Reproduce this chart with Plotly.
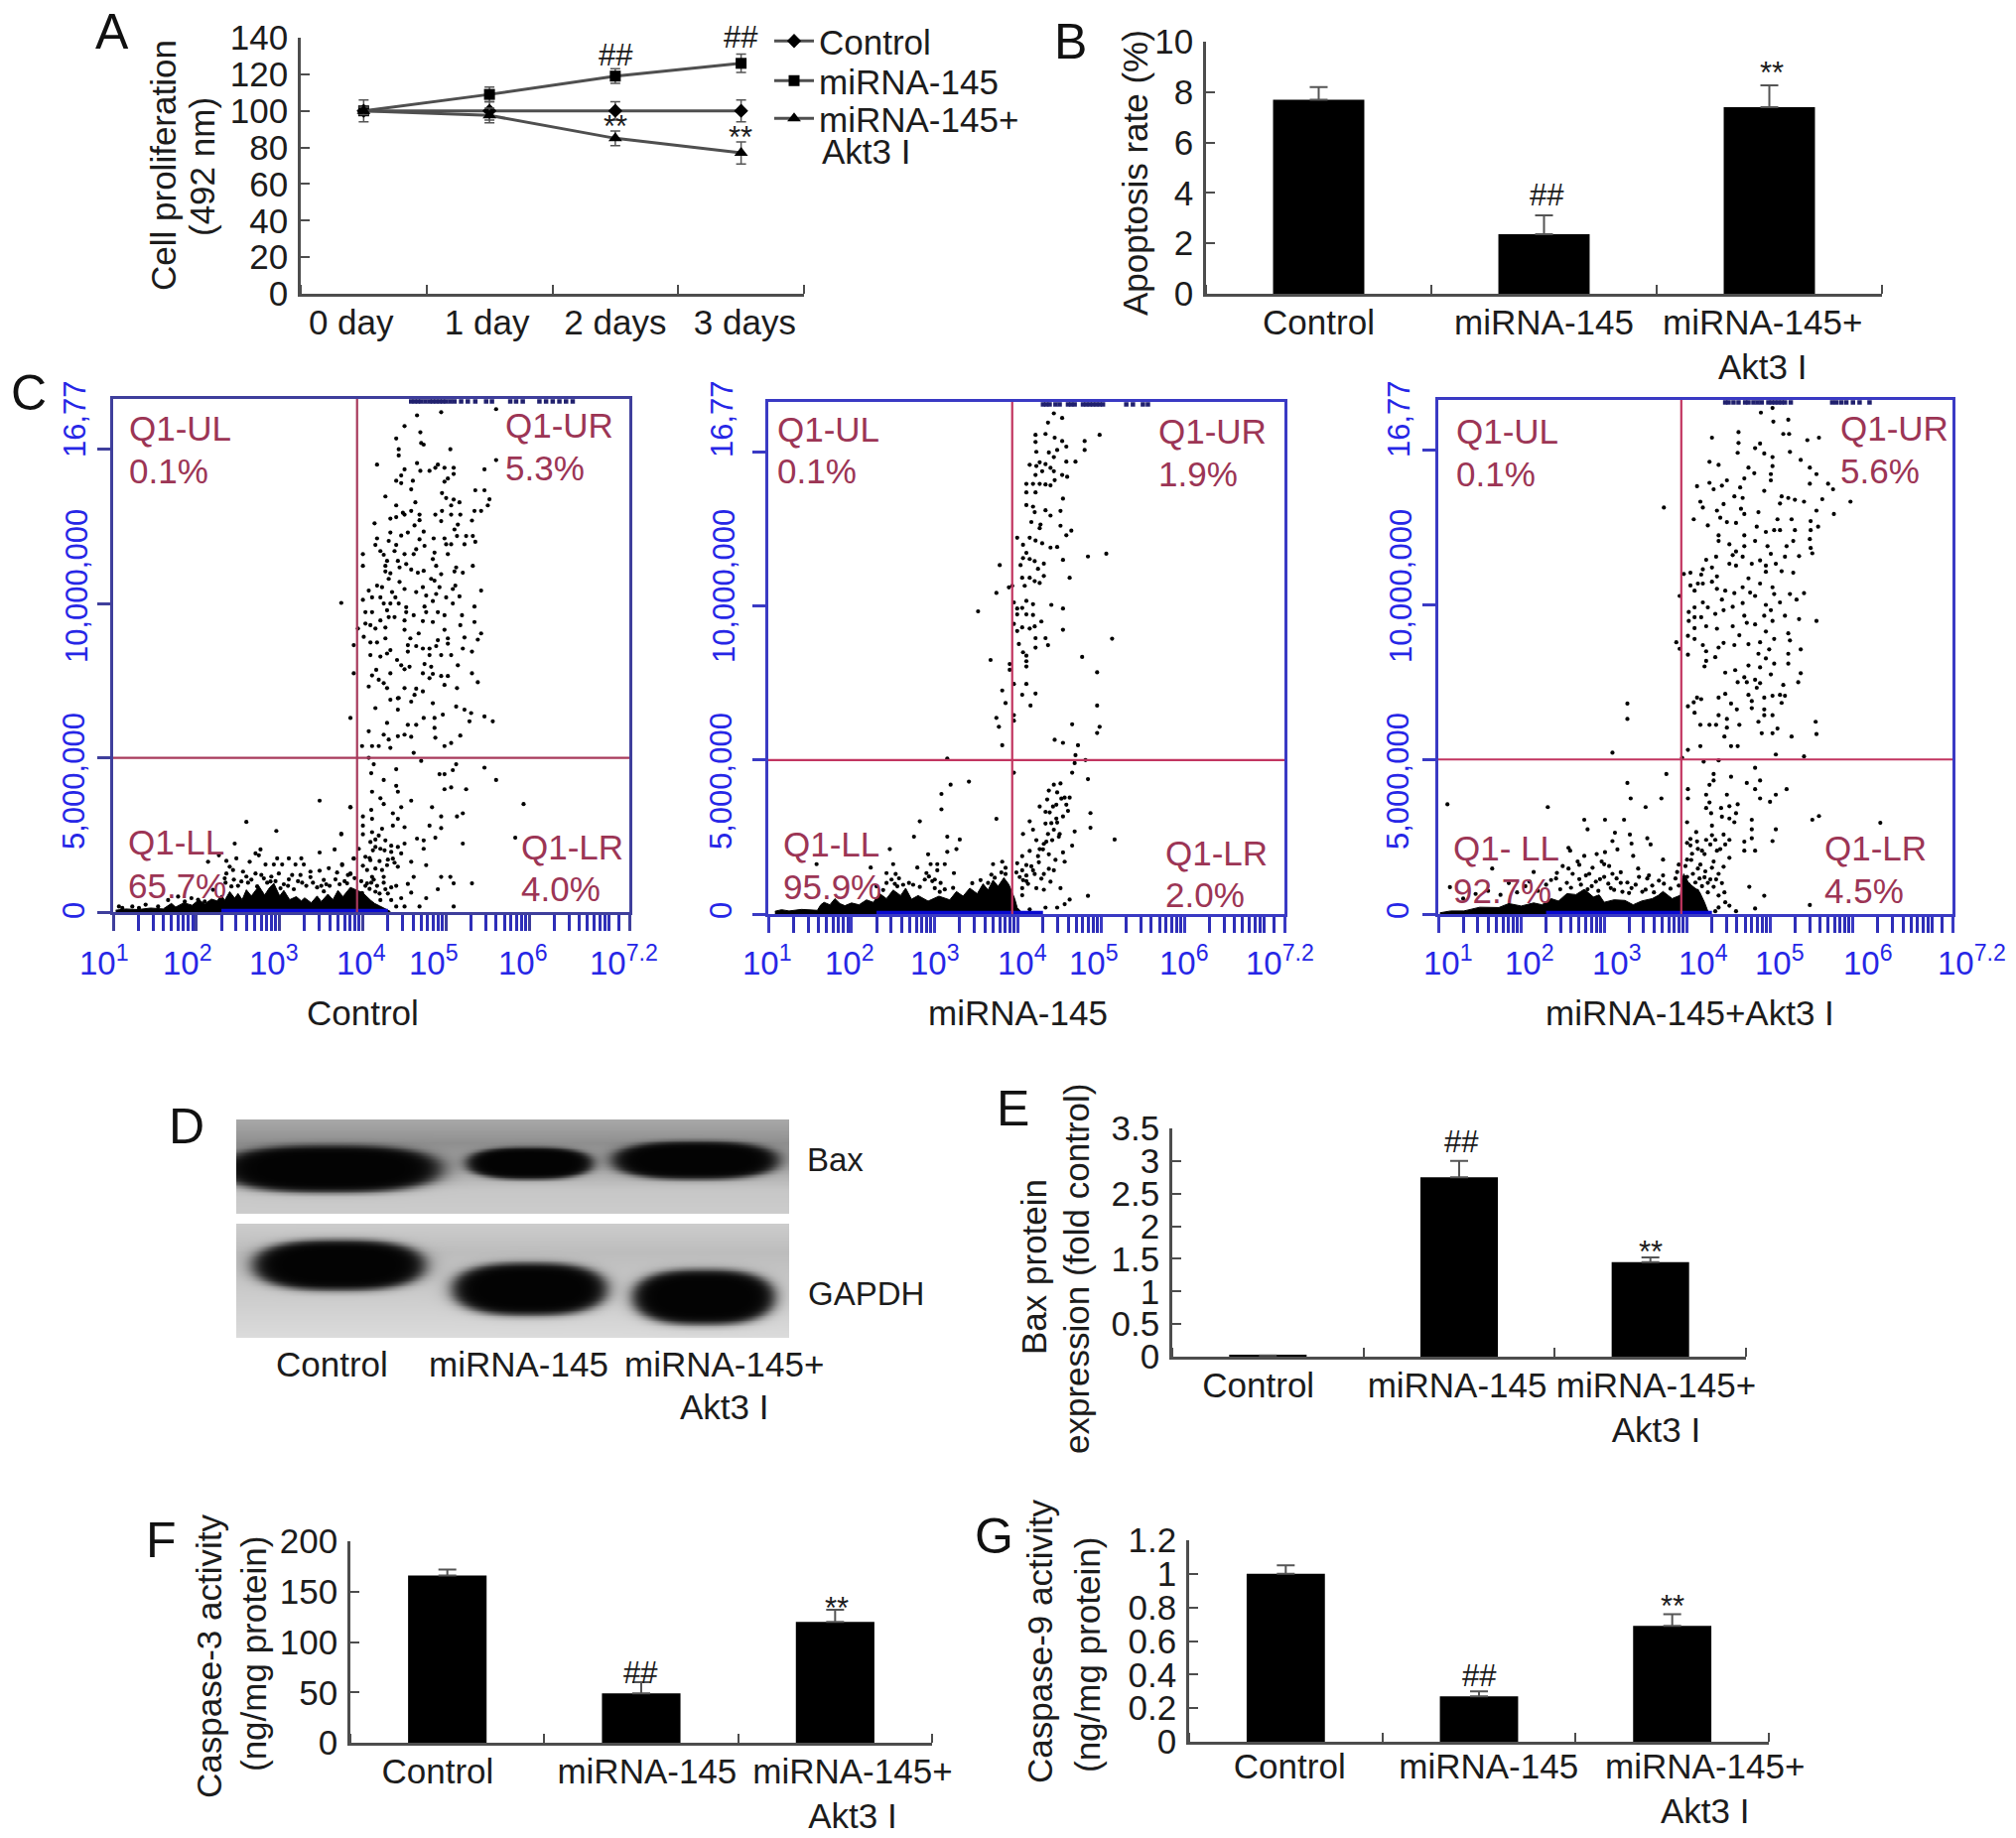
import numpy as np
import plotly.graph_objects as go

W, H = 2031, 1852

# ---------------- DATA ----------------
days = [0, 1, 2, 3]
day_labels = ["0 day", "1 day", "2 days", "3 days"]
prolif_control = [100, 100, 100, 100]
prolif_control_err = [6, 5, 5, 6]
prolif_mir = [100, 109, 119, 126]
prolif_mir_err = [2, 4, 4, 5]
prolif_akt = [100, 97.5, 85, 77]
prolif_akt_err = [2, 4, 4, 6]
prolif_ticks = [0, 20, 40, 60, 80, 100, 120, 140]

groups = ["Control", "miRNA-145", "miRNA-145+<br>Akt3 I"]
apoptosis = [7.7, 2.36, 7.4]
apoptosis_err = [0.5, 0.75, 0.87]
bax = [0.02, 2.75, 1.45]
bax_err = [0.0, 0.25, 0.07]
casp3 = [166, 49, 120]
casp3_err = [6, 11, 12]
casp9 = [1.0, 0.27, 0.69]
casp9_err = [0.05, 0.03, 0.07]

# flow cytometry: (log10 FITC, PI in millions), read dot by dot from the picture
control_dots = [(4.65,16.1),(4.94,16.2),(5.60,16.3),(4.50,15.75),(4.69,15.55),(4.40,15.35),(4.70,15.2),(4.73,15.15),(4.43,15.0),(4.43,14.8),(5.05,15.0),(5.60,14.65),(4.17,14.5),(4.65,14.55),(4.90,14.5),(4.87,14.4),(4.98,14.4),(5.09,14.4),(4.50,14.35),(5.46,14.35),(4.69,14.3),(4.80,14.3),(5.09,14.2),(5.02,14.05),(4.98,13.95),(4.46,14.15),(4.40,13.98),(4.46,13.9),(4.60,13.98),(4.58,13.7),(5.35,13.67),(5.46,13.67),(4.27,13.47),(4.95,13.58),(5.0,13.42),(5.09,13.37),(5.16,13.28),(5.52,13.38),(5.50,13.18),(4.63,13.28),(5.06,13.18),(4.40,13.18),(4.48,12.94),(4.58,13.0),(4.33,12.75),(4.40,12.8),(4.50,12.88),(4.68,12.88),(4.87,12.88),(4.95,13),(5.06,12.88),(5.17,12.88),(5.34,13),(5.42,13),(4.14,12.6),(4.68,12.7),(4.62,12.53),(4.94,12.67),(5.14,12.56),(5.31,12.69),(5.1,12.4),(4.54,12.3),(4.73,12.33),(4.46,12.2),(4.33,12.3),(4.17,12.11),(4.31,12.03),(4.68,12.08),(4.85,12.11),(4.98,12.11),(5.13,12.19),(5.24,12.19),(5.32,12.19),(5.35,12.0),(5.22,11.92),(5.06,11.92),(5.0,11.92),(4.15,11.9),(4.40,11.9),(4.74,11.87),(4.64,11.76),(4.21,11.7),(4.38,11.7),(4.0,11.6),(4.25,11.58),(4.50,11.6),(4.61,11.6),(4.86,11.65),(5.02,11.6),(4.29,11.38),(4.42,11.38),(4.84,11.44),(4.0,11.22),(4.27,11.22),(4.44,11.17),(4.52,11.28),(4.88,11.22),(5.32,11.22),(5.12,11.17),(4.27,11.04),(4.33,10.98),(4.58,11.1),(4.66,11.0),(4.73,11.06),(4.94,10.95),(5.1,11.04),(5.2,11.0),(4.31,10.8),(4.44,10.7),(4.82,10.8),(4.86,10.74),(4.17,10.58),(4.23,10.53),(4.5,10.47),(4.72,10.53),(4.92,10.53),(5.11,10.58),(5.08,10.47),(5.42,10.42),(4.07,10.42),(4.35,10.37),(4.39,10.2),(4.21,10.2),(4.64,10.37),(4.88,10.31),(4.76,10.26),(5.16,10.23),(3.74,10.02),(4.0,10.12),(4.11,10.2),(4.25,10.0),(4.33,10.0),(4.43,10),(4.52,9.88),(4.74,9.9),(5.08,10),(4.84,10.08),(5.0,10.2),(5.34,9.9),(4.03,9.72),(4.11,9.72),(4.29,9.78),(4.52,9.72),(4.76,9.72),(4.9,9.72),(5.19,9.62),(4.98,9.62),(4.61,9.62),(4.21,9.45),(4.31,9.56),(4.38,9.56),(4.5,9.45),(4.72,9.43),(4.84,9.4),(5.34,9.4),(5.17,9.3),(4.03,9.35),(4.09,9.3),(4.27,9.22),(4.15,9.19),(4.5,9.15),(4.98,9.15),(5.42,9.03),(3.94,9.19),(4.67,9.03),(4.01,8.92),(4.27,8.87),(4.57,8.87),(4.54,8.65),(5.02,8.87),(5.22,8.9),(5.38,8.83),(4.9,8.81),(4.09,8.74),(4.17,8.74),(3.89,8.65),(4.64,8.62),(4.72,8.54),(4.8,8.54),(4.88,8.62),(5.02,8.7),(5.2,8.54),(4.33,8.49),(4.29,8.38),(4.09,8.33),(4.21,8.28),(4.54,8.44),(5.06,8.33),(4.94,8.33),(4.8,8.33),(5.31,8.44),(4.41,8.17),(4.46,8.0),(4.56,7.95),(4.74,8.04),(4.82,7.95),(5.14,8.0),(4.16,7.85),(4.5,7.87),(3.89,7.74),(4.33,7.74),(4.72,7.74),(4.84,7.72),(5.31,7.74),(4.11,7.67),(4.94,7.65),(5.02,7.65),(4.8,7.58),(4.19,7.53),(4.25,7.42),(4.07,7.31),(4.29,7.26),(5.38,7.45),(4.98,7.36),(5.13,7.26),(4.5,7.26),(4.64,7.24),(4.72,7.15),(4.62,7.04),(4.43,6.94),
(4.15,6.61),(4.33,6.88),(4.42,6.93),(4.42,6.56),(4.58,6.82),(4.84,6.77),(5.12,6.66),(5.22,6.56),(5.3,6.45),(5.46,6.34),(5.56,6.18),(3.85,6.29),(4.29,6.13),(4.54,6.07),(4.64,6.07),(4.73,6.29),(4.86,6.29),(4.96,6.4),(5.28,6.18),(4.07,5.86),(4.25,5.75),(4.42,5.7),(4.5,5.75),(4.58,5.68),(4.86,5.97),(4.87,5.65),(5.17,5.72),(4.31,5.59),(5.06,5.48),(4.98,5.38),(4.33,5.32),(3.99,5.38),(4.11,5.38),(4.19,5.38),(4.61,5.16),(4.07,5.0),(4.7,4.9),(4.13,4.79),(5.12,4.79),(4.4,4.63),(5.46,4.68),(4.1,4.5),(5.08,4.6),(4.92,4.47),(4.98,4.47),(4.25,4.28),(5.6,4.28),(4.4,4.09),(5.06,4.04),(4.98,3.98),(5.24,3.98),(4.11,3.9),(4.42,3.9),(4.21,3.69),(4.58,3.61),(5.93,3.5),(4.25,3.5),(3.85,3.4),(4.46,3.4),(4.83,3.4),(4.1,3.31),(5.2,3.2),(5.13,3.1),(4.36,3.2),(4.42,3.02),(4.94,3.1),(4.0,3.1),(4.11,3.02),(4,2.8),(4.8,2.8),(4.36,2.8),(4.23,2.7),(4.5,2.75),(4.94,2.72),(4.11,2.59),(4.19,2.48),(3.74,2.52),(4.0,2.52),(4.65,2.38),(4.87,2.41),(4.73,2.32),(4.27,2.32),(4.09,2.27),(4.15,2.11),(4.5,2.22),(5.2,2.22),(5.83,2.41),(4.42,2.11),(4.73,2.05),(4.21,2.05),(4.34,1.95),(3.95,2.05),(4.03,1.79),(4.09,1.68),(4.36,1.73),(4.58,1.63),(4.76,1.52),(4.29,1.52),(4.42,1.47),(4.15,1.41),(4.05,1.36),(4.23,1.36),(3.89,1.73),(3.75,1.52),(3.85,1.23),(4.11,1.14),(4.25,1.14),(4.61,1.14),(4.94,1.14),(5.05,1.14),(4.05,.93),(4.54,.91),(5.09,.93),(5.31,.93),(4.4,.85),(4.27,.74),(4.9,.74),(4.15,.66),(4.58,.63),(3.99,.62),(4.76,.45),(4.46,.45),(4.34,.39),(4.21,.39),(4.5,.18),(4.4,.18),(4.68,.18),(5.09,.18),
(3.48,3.61),(3.85,3.4),(2.6,2.92),(2.96,2.63),(3.74,2.54),(2.46,2.22),(3.66,2.03),(3.48,1.93),(2.77,2.03),(2.71,1.9),(2.75,1.84),(2.27,1.84),(2.36,1.66),(2.48,1.74),(2.64,1.63),(2.14,1.63),(2.97,1.74),(3.11,1.74),(3.26,1.74),(3.89,1.74),(2.83,1.54),(2.93,1.54),(3.03,1.54),(3.19,1.54),(3.29,1.54),(3.75,1.55),(2.4,1.47),(2.44,1.36),(3.59,1.42),(3.37,1.31),(3.48,1.34),(3.69,1.28),(2.56,1.31),(2.36,1.25),(2.71,1.25),(2.99,1.25),(3.25,1.2),(3.85,1.25),(2.6,1.15),(2.34,1.09),(2.81,1.09),(3.11,1.06),(3.37,1.13),(3.53,1.04),(3.67,1.06),(2.89,.99),(3.27,.95),(3.81,.93),(2.54,.99),(3.45,.8),(3.17,.74),(3.53,.67),(3.01,.77),(2.73,.83),(2.42,.83),(1.07,.18),(1.11,.13),(1.23,.18),(1.31,.13),(1.39,.24),(1.54,.18),(1.66,.39),(1.78,.5),(1.86,.34),(1.94,.45),(2.02,.4),(2.1,.34),(2.2,.72),
(2.35,.95),(2.45,1.05),(2.5,.85),(2.62,.95),(2.66,1.05),(2.78,1.2),(2.85,.95),(2.9,1.15),(2.95,1.0),(3.05,.9),(3.1,.85),(3.15,1.2),(3.22,1.0),(3.32,.85),(3.4,.95),(3.5,.85),(3.56,.9),(3.6,.85),(3.72,.9),(3.78,1.0),(3.82,1.2),(3.9,1.1),(3.98,1.0),(4.03,.85),(4.08,.75),(4.1,.95),(4.13,1.05),(4.17,.85),(4.2,.6),(4.25,.95),(4.3,.6),(4.34,.8),(4.0,1.5),(4.08,1.75),(4.12,2.0),(4.2,1.65),(4.26,2.0),(4.3,1.7),(4.34,2.15),(4.38,1.6),(4.46,1.9),(4.15,2.35)]
control_band_x = [1.03,1.15,1.3,1.45,1.6,1.7,1.75,1.85,1.95,2.03,2.1,2.18,2.25,2.3,2.34,2.4,2.46,2.5,2.55,2.6,2.66,2.75,2.82,2.88,2.93,3.0,3.05,3.12,3.2,3.26,3.3,3.38,3.45,3.5,3.58,3.64,3.7,3.76,3.85,3.92,4.0,4.09,4.14,4.2,4.29,4.33]
control_band_y = [.06,.1,.08,.13,.1,.28,.16,.3,.22,.4,.26,.42,.36,.55,.38,.66,.45,.6,.4,.72,.52,.84,.55,.8,.93,.52,.7,.4,.5,.36,.46,.3,.52,.34,.58,.4,.7,.5,.8,.72,.62,.39,.28,.2,.07,.02]
control_top = [4.58,4.62,4.66,4.7,4.75,4.8,4.84,4.88,4.92,4.96,5.0,5.05,5.1,5.18,5.26,5.35,5.48,5.55,5.77,5.84,5.92,6.12,6.2,6.28,6.36,6.44,6.52]

mir_dots = [(4.43,16.26),(4.53,16.11),(4.36,15.96),(4.21,15.56),(4.33,15.59),(4.44,15.47),(4.21,15.33),(4.53,15.36),(4.8,15.36),(4.98,15.56),(4.58,15.18),(4.47,15.07),(4.8,15.07),(4.22,15.01),(4.37,14.99),(4.43,14.84),(4.26,14.67),(4.14,14.59),(4.22,14.55),(4.33,14.61),(4.39,14.49),(4.58,14.69),(4.69,14.69),(4.29,14.38),(4.21,14.26),(4.43,14.38),(4.53,14.26),(4.59,14.2),(4.1,13.97),(4.18,13.97),(4.26,13.97),(4.33,13.95),(4.39,13.92),(4.44,14.09),(4.1,13.69),(4.21,13.69),(4.54,13.49),(4.1,13.28),(4.18,13.23),(4.2,13.05),(4.33,13.11),(4.39,12.94),(4.51,13.09),(4.16,12.73),(4.27,12.65),(4.26,12.53),(4.51,12.61),(4.58,12.3),(4.64,12.45),(3.99,12.22),(4.14,12.22),(4.21,12.13),(4.29,12.04),(4.06,11.99),(4.39,11.9),(4.47,11.92),(4.1,11.73),(4.06,11.56),(4.14,11.53),(4.2,11.46),(4.31,11.38),(4.03,11.33),(4.54,11.5),(4.84,11.61),(5.06,11.7),(3.78,11.33),(4.24,11.21),(4.14,10.92),(4.05,10.92),(4.31,10.98),(4.62,10.92),(4.2,10.81),(4.08,10.66),(3.93,10.66),(3.89,10.61),(3.74,10.43),(4.26,10.75),(3.95,10.12),(4.1,10.17),(4.18,10.06),(4.05,9.94),(3.99,9.92),(4.4,10.04),(4.54,9.92),(3.52,9.83),(3.99,9.73),(4.1,9.73),(4.18,9.71),(3.95,9.42),(4.28,9.5),(4.05,9.31),(4.14,9.27),(4.2,9.34),(4.54,9.23),(3.99,9.19),(4.21,8.96),(4.33,8.96),(5.13,8.94),(4.01,8.77),(4.21,8.65),(4.36,8.73),(4.06,8.5),(4.1,8.39),(4.77,8.35),(3.67,8.25),(4.1,8.21),(3.9,8.12),(4.1,8.04),(3.9,7.93),(4.95,7.85),(3.95,7.47),(4.1,7.47),(3.81,7.26),(4.21,7.16),(4.05,7.12),(3.85,6.85),(4.15,6.77),(4.95,6.77),(3.95,6.46),(3.74,6.37),(3.95,6.28),(4.65,6.16),(3.77,6.08),(4.98,6.08),(4.95,5.88),(4.44,5.66),(4.54,5.56),(3.81,5.48),(4.72,5.48),(4.69,5.16),(3.15,5.05),(4.81,5.0),(4.68,4.9),(3.95,4.59),(4.65,4.59),(4.84,4.38),(3.41,4.3),(3.19,4.2),(4.51,4.24),(4.43,4.2),(4.37,4.01),(4.47,3.95),(3.08,3.9),(4.56,3.78),(4.62,3.78),(4.35,3.72),(4.26,3.49),(4.42,3.49),(3.08,3.4),(4.33,3.32),(4.87,3.28),(4.54,3.17),(3.74,3.09),(2.82,3.01),(4.14,3.01),(4.33,2.94),(4.47,2.97),(4.87,2.8),(4.18,2.74),(4.43,2.74),(4.06,2.6),(4.68,2.68),(2.75,2.51),(3.15,2.51),(4.49,2.51),(3.3,2.42),(5.16,2.42),(4.41,2.4),(4.31,2.28),(4.65,2.22),(2.46,2.11),(3.26,2.11),(4.26,2.11),(4.14,2.05),(4.37,1.94),(4.54,2.0),(3.15,2.02),(2.92,1.94),(4.05,1.88),(4.24,1.88),(4.45,1.76),(4.56,1.7),(1.58,1.62),(2.5,1.62),(2.95,1.62),(3.03,1.62),(3.12,1.62),(3.7,1.62),(3.81,1.7),(3.99,1.65),(4.1,1.59),(2.23,1.51),(2.79,1.51),(4.37,1.47),(3.03,1.42),(4.05,1.42),(4.18,1.42),(2.42,1.33),(2.53,1.3),(2.9,1.33),(3.23,1.33),(3.85,1.3),(4.31,1.3),(4.43,1.42),(2.57,1.16),(2.42,1.01),(2.97,1.07),(3.07,1.01),(3.64,1.01),(4.1,1.07),(4.39,1.05),(2.55,.9),(2.69,1.01),(3.0,.84),(4.05,.84),(4.22,.84),(4.51,.84),(4.31,.79),(4.05,.61),(4.84,.59),(4.62,.47),(4.56,.32),(4.14,.15),(4.33,.21),(4.47,.21),
(2.3,.9),(2.38,.78),(2.48,1.12),(2.52,.98),(2.62,.95),(2.74,.95),(2.82,.88),(2.88,1.12),(2.93,1.22),(3.0,1.12),(3.06,.72),(3.12,.8),(3.22,.85),(3.45,1.0),(3.55,1.1),(3.68,1.28),(3.72,1.18),(3.8,1.35),(3.85,1.5),(3.98,1.35),(4.02,1.2),(4.06,1.1),(4.1,1.25),(4.12,.98),(4.16,1.55),(4.2,1.3),(4.25,1.68),(4.28,1.15),(4.3,2.1),(4.34,2.35),(4.22,2.4),(4.36,2.6),(4.4,2.95),(4.38,3.3),(4.46,3.1),(4.5,2.6),(4.46,3.55),(4.52,3.75),(4.58,3.55),(4.6,3.35)]
mir_band_x = [1.08,1.16,1.25,1.4,1.59,1.63,1.67,1.74,1.8,1.86,1.92,2.0,2.09,2.18,2.26,2.34,2.42,2.5,2.59,2.65,2.72,2.8,2.92,3.05,3.18,3.26,3.34,3.42,3.51,3.58,3.64,3.7,3.76,3.83,3.89,3.96,3.99,4.05]
mir_band_y = [.09,.14,.1,.15,.12,.3,.38,.3,.5,.34,.27,.36,.3,.46,.38,.66,.5,.78,.6,.84,.48,.6,.42,.58,.46,.73,.58,.84,.66,.98,.78,1.1,.9,1.18,.96,.5,.21,.04]
mir_top = [4.3,4.34,4.38,4.45,4.5,4.6,4.64,4.68,4.78,4.82,4.86,4.9,4.94,4.98,5.02,5.3,5.38,5.5,5.56]

akt_dots = [(5.03,16.37),(4.89,16.22),(5.04,15.93),(5.22,15.99),(4.62,15.59),(4.3,15.41),(5.16,15.53),(5.23,15.53),(5.45,15.33),(5.59,15.41),(4.62,15.24),(4.88,15.22),(4.82,15.07),(4.93,14.9),(4.61,14.92),(5.24,14.95),(5.03,14.78),(5.37,14.69),(4.27,14.63),(4.38,14.53),(4.74,14.44),(5.03,14.49),(5.48,14.44),(4.81,14.26),(5.01,14.23),(5.56,14.23),(4.69,14.09),(4.48,14.03),(4.27,13.95),(5.01,14.03),(5.48,13.92),(5.7,13.92),(4.12,13.84),(4.64,13.8),(4.32,13.74),(4.42,13.86),(4.93,13.69),(5.76,13.74),(4.57,13.51),(4.67,13.46),(5.14,13.51),(5.22,13.46),(5.3,13.4),(5.63,13.42),(5.97,13.34),(4.16,13.34),(5.41,13.34),(4.44,13.26),(5.12,13.28),(3.72,13.15),(4.19,13.15),(4.36,13.05),(4.65,13.11),(5.56,13.05),(4.69,12.94),(5.77,12.94),(4.4,12.82),(4.86,13.0),(5.09,12.77),(5.26,12.77),(4.08,12.77),(4.59,12.65),(4.48,12.68),(5.49,12.71),(4.25,12.57),(4.84,12.53),(5.05,12.42),(5.12,12.42),(5.58,12.53),(4.38,12.25),(4.95,12.36),(5.3,12.42),(5.49,12.42),(4.69,12.25),(4.38,12.07),(4.82,12.07),(5.28,12.07),(5.48,12.13),(4.51,11.96),(4.69,11.9),(5.2,11.9),(4.97,11.9),(4.59,11.73),(5.49,11.84),(5.51,11.67),(4.35,11.56),(4.55,11.61),(5.01,11.65),(5.35,11.58),(4.23,11.46),(4.67,11.56),(4.88,11.44),(5.18,11.56),(4.51,11.33),(4.3,11.21),(4.78,11.33),(4.95,11.27),(5.07,11.33),(4.59,11.27),(5.28,11.04),(4.19,11.15),(3.96,11.0),(4.04,11.04),(4.17,10.98),(4.36,10.92),(4.74,10.86),(4.95,11.07),(5.14,11.09),(4.13,10.69),(4.19,10.69),(4.04,10.63),(4.3,10.75),(4.67,10.57),(4.88,10.69),(5.03,10.57),(4.36,10.52),(4.46,10.46),(4.09,10.46),(4.76,10.4),(5.24,10.35),(5.41,10.38),(3.91,10.29),(4.57,10.38),(5.05,10.35),(5.32,10.17),(4.42,10.17),(4.82,10.29),(4.19,10.08),(4.67,10.06),(4.95,10.0),(5.12,10.08),(4.09,9.92),(4.55,9.94),(4.44,9.83),(4.02,9.77),(5.01,9.83),(5.18,9.65),(4.09,9.6),(4.17,9.6),(4.25,9.92),(4.34,9.71),(4.69,9.65),(4.93,9.65),(5.35,9.54),(5.56,9.48),(4.02,9.48),(5.03,9.48),(4.72,9.42),(4.82,9.37),(4.23,9.31),(4.36,9.23),(4.55,9.31),(4.09,9.25),(5.22,9.08),(4.95,9.14),(4.63,9.02),(4.01,9.0),(4.09,8.9),(5.05,8.9),(5.24,8.85),(4.88,8.79),(3.87,8.79),(4.19,8.7),(4.44,8.77),(4.57,8.7),(4.74,8.73),(3.91,8.58),(4.38,8.62),(4.23,8.5),(4.99,8.56),(5.37,8.56),(4.86,8.42),(5.22,8.42),(4.01,8.39),(4.34,8.31),(4.95,8.27),(5.05,8.1),(4.23,8.19),(4.74,8.04),(5.22,8.1),(4.21,8.01),(4.58,7.89),(4.46,7.81),(4.88,7.98),(5.37,7.79),(5.01,7.75),(4.69,7.66),(4.82,7.58),(4.61,7.5),(5.34,7.5),(4.72,7.5),(4.88,7.47),(5.16,7.41),(4.84,7.32),(4.46,7.12),(4.74,7.09),(4.38,7.0),(4.93,7.0),(5.03,7.06),(5.12,7.09),(5.18,7.06),(4.12,7.0),(4.17,6.95),(3.28,6.81),(4.78,6.89),(4.08,6.85),(4.01,6.72),(4.53,6.81),(5.14,6.83),(4.6,6.62),(4.78,6.66),(4.93,6.62),(4.09,6.51),(4.93,6.43),(4.38,6.43),(5.03,6.43),(3.28,6.31),(4.48,6.31),(5.55,6.22),(4.86,6.22),(4.16,6.12),(4.27,6.12),(4.35,6.12),(4.63,6.12),(5.09,6.0),(4.48,6.03),(5.03,5.85),(4.9,5.85),(5.56,5.82),(4.45,5.74),(5.26,5.74),(4.53,5.43),(4.61,5.43),(4.16,5.43),(4.01,5.31),(3.1,5.22),(5.07,5.16),(5.41,5.1),(3.94,5.05),(4.2,4.93),(4.38,4.97),
(4.82,4.73),(3.75,4.53),(4.32,4.53),(4.53,4.44),(4.32,4.32),(4.88,4.32),(3.28,4.24),(4.72,4.24),(4.27,4.18),(4.82,4.04),(5.2,4.04),(4.01,4.04),(4.48,3.86),(5.07,3.86),(4.23,3.86),(4.01,3.74),(3.32,3.74),(3.69,3.74),(4.88,3.74),(5.0,3.63),(4.27,3.61),(4.61,3.55),(4.51,3.49),(1.11,3.55),(2.32,3.46),(3.5,3.46),(4.41,3.43),(4.23,3.43),(4.59,3.26),(4.29,3.26),(4.42,3.15),(4.51,3.09),(2.76,3.05),(3.01,3.05),(3.24,3.05),(4.78,3.05),(5.51,3.05),(5.59,3.17),(6.33,2.95),(4.57,2.97),(4.0,2.97),(4.3,2.86),(2.8,2.74),(5.07,2.74),(4.78,2.74),(3.13,2.63),(4.11,2.65),(4.44,2.57),(3.31,2.57),(3.52,2.45),(4.78,2.45),(4.04,2.43),(4.23,2.4),(4.34,2.4),(4.51,2.4),(5.03,2.36),(3.1,2.36),(3.33,2.28),(3.56,2.25),(4.69,2.34),(4.04,2.22),(4.13,2.11),(2.57,2.14),(3.16,2.09),(4.36,2.05),(4.82,2.05),(4.69,2.05),(2.59,2.05),(3.01,2.0),(4.21,1.94),(2.76,1.88),(2.91,1.94),(3.35,1.88),(3.71,1.76),(4.51,1.82),(4.0,1.76),(3.0,1.61),(4.32,1.7),(4.44,1.53),(2.57,1.47),(2.7,1.59),(1.65,1.47),(2.15,1.36),(3.41,1.47),(4.13,1.47),(3.88,1.36),(2.43,1.33),(2.82,1.3),(3.1,1.3),(3.54,1.25),(4.38,1.3),(4.21,1.19),(2.36,1.1),(2.55,1.01),(2.7,1.13),(2.95,1.13),(3.2,1.01),(3.71,1.25),(4.25,1.01),(2.85,.9),(3.33,.84),(4.75,.88),(3.08,.84),(3.5,.79),(4.93,.59),(5.48,.29),(4.82,.18),(4.46,.38),(4.51,.27),(4.38,.21),(4.34,.09),(4.59,.09),(1.14,.87),
(2.3,.95),(2.42,1.15),(2.47,.8),(2.5,1.55),(2.6,.85),(2.62,1.3),(2.68,1.7),(2.72,.95),(2.78,1.25),(2.8,.8),(2.86,1.5),(2.9,1.05),(2.93,.75),(2.97,1.7),(3.0,1.2),(3.05,.98),(3.06,1.55),(3.12,.78),(3.15,1.15),(3.2,1.35),(3.22,.72),(3.28,1.02),(3.3,.68),(3.38,.95),(3.42,1.2),(3.46,.72),(3.52,1.15),(3.58,.92),(3.6,.7),(3.66,1.08),(3.72,.98),(3.8,.82),(3.86,1.15),(3.9,.92),(3.9,1.6),(3.98,1.55),(4.0,1.2),(4.02,.95),(4.05,1.75),(4.07,1.3),(4.1,1.02),(4.12,.75),(4.15,1.15),(4.16,1.6),(4.18,.9),(4.22,1.38),(4.25,.7),(4.28,1.12),(4.3,1.5),(4.32,.88),(4.35,1.12),(4.38,.6),(4.42,1.0),(4.45,.7),(4.0,2.3),(4.06,1.95),(4.12,2.35),(4.18,2.05),(4.28,2.25),(4.3,2.55),(4.4,2.1),(4.46,2.25),(2.05,.9),(2.1,1.05),(2.2,.75),(1.6,.75),(1.75,.62),(1.85,1.0),(1.95,.7),(1.3,.5),(1.45,.65)]
akt_band_x = [1.02,1.15,1.31,1.5,1.73,1.85,2.0,2.15,2.25,2.36,2.45,2.55,2.66,2.76,2.87,2.94,3.0,3.12,3.25,3.35,3.45,3.58,3.65,3.71,3.82,3.92,3.94,3.96,4.02,4.09,4.15,4.21,4.25,4.29]
akt_band_y = [.04,.1,.1,.22,.21,.34,.26,.36,.3,.5,.42,.66,.63,.8,.55,.62,.38,.46,.44,.3,.42,.5,.6,.73,.5,.61,1.1,1.3,1.0,.84,.72,.38,.1,.04]
akt_top = [4.46,4.5,4.56,4.62,4.7,4.74,4.8,4.85,4.9,4.98,5.02,5.06,5.1,5.14,5.18,5.25,5.75,5.8,5.86,5.92,6.0,6.08,6.2]

flow_names = ["Control", "miRNA-145", "miRNA-145+Akt3 I"]
flow_quadrants = [["0.1%", "5.3%", "65.7%", "4.0%"], ["0.1%", "1.9%", "95.9%", "2.0%"], ["0.1%", "5.6%", "92.7%", "4.5%"]]
gate_log_x = 3.93
gate_y = 5
flow_tick_exp = [1, 2, 3, 4, 5, 6, 7.2]
flow_tick_text = ["10<sup>1</sup>", "10<sup>2</sup>", "10<sup>3</sup>", "10<sup>4</sup>", "10<sup>5</sup>", "10<sup>6</sup>", "10<sup>7.2</sup>"]

# western blot lanes: centre x, centre y, half width, half height (blot fraction units)
bax_bands = [(0.17, 0.52, 0.2, 0.25), (0.53, 0.46, 0.115, 0.17), (0.83, 0.43, 0.15, 0.2)]
gapdh_bands = [(0.185, 0.36, 0.155, 0.22), (0.53, 0.57, 0.14, 0.23), (0.845, 0.64, 0.128, 0.24)]

# ---------------- HELPERS ----------------
INK = "#1c1c1c"
AXC = "#4d4d4d"
ROSE = "#9c3555"
BLUE = "#2626e6"
FONT = "Liberation Sans"
fig = go.Figure()
annots = []
L = {}


def px_x(a, b):
    return [a / W, b / W]


def px_y(top, bottom):
    return [1 - bottom / H, 1 - top / H]


def note(text, x, y, size=35, color=INK, anchor="center", angle=0):
    annots.append(dict(text=text, xref="paper", yref="paper", x=x / W, y=1 - y / H, xanchor=anchor,
                       yanchor="middle", showarrow=False, textangle=angle, align="center",
                       font=dict(size=size, color=color, family=FONT)))


def stars(text, x, y):
    note(text, x, y + (6 if "*" in text else 0), size=31)


def set_axes(n, xa, ya):
    s = "" if n == 1 else str(n)
    xa = dict(xa, anchor="y" + s)
    ya = dict(ya, anchor="x" + s)
    L["xaxis" + s] = xa
    L["yaxis" + s] = ya
    return "x" + s, "y" + s


def plain_axes(n, xd, yd, xr, yr, minor_x, tick_pos, tick_text, ytick, ytext=None, standoff=-4):
    return set_axes(
        n,
        dict(domain=px_x(*xd), range=xr, tickmode="array", tickvals=tick_pos, ticktext=tick_text, ticks="",
             ticklen=0, showgrid=False, zeroline=False, showline=True, linecolor=AXC, linewidth=2.5,
             tickfont=dict(size=35, color=INK, family=FONT), ticklabelstandoff=standoff, tickangle=0,
             minor=dict(tickmode="array", tickvals=minor_x, ticks="inside", ticklen=9, tickcolor=AXC,
                        tickwidth=2, showgrid=False)),
        dict(domain=px_y(*yd), range=yr, tickmode="array", tickvals=ytick,
             ticktext=ytext if ytext else [str(v) for v in ytick], ticks="inside", ticklen=9, tickcolor=AXC,
             tickwidth=2, showgrid=False, zeroline=False, showline=True, linecolor=AXC, linewidth=2.5,
             tickfont=dict(size=35, color=INK, family=FONT), ticklabelstandoff=3),
    )


def bars(n, xd, yd, ymax, yticks, vals, errs, label_pos, ytext=None, standoff=-4):
    xr, yr = plain_axes(n, xd, yd, [-0.5, 2.5], [0, ymax], [-0.5, 0.5, 1.5, 2.5], label_pos, groups, yticks, ytext,
                        standoff)
    fig.add_trace(go.Bar(x=[0, 1, 2], y=vals, width=0.405, marker=dict(color="#000000", line=dict(width=0)),
                         error_y=dict(type="data", symmetric=False, array=errs, arrayminus=[0, 0, 0],
                                      color="#555555", thickness=2, width=9),
                         xaxis=xr, yaxis=yr, showlegend=False))


# ---------------- PANEL A ----------------
xa, ya = plain_axes(1, (303, 810), (38, 296), [-0.5, 3.5], [0, 140], [-0.5, 0.5, 1.5, 2.5, 3.5],
                    [-0.1, 0.98, 2.0, 3.03], day_labels, prolif_ticks)
series = [("Control", prolif_control, prolif_control_err, "diamond", "legend", 9),
          ("miRNA-145", prolif_mir, prolif_mir_err, "square", "legend2", 9),
          ("miRNA-145+", prolif_akt, prolif_akt_err, "triangle-up", "legend3", 10)]
for name, vals, err, sym, leg, sz in series:
    fig.add_trace(go.Scatter(x=days, y=vals, name=name, mode="lines+markers", legend=leg,
                             line=dict(color="#4f4f4f", width=3),
                             marker=dict(symbol=sym, size=sz + 2, color="#000000"),
                             error_y=dict(type="data", array=err, color="#555555", thickness=1.5, width=5),
                             xaxis=xa, yaxis=ya))
for leg, yy in (("legend", 40), ("legend2", 80), ("legend3", 118)):
    L[leg] = dict(x=775 / W, y=1 - (yy - 28) / H, xanchor="left", yanchor="top", bgcolor="rgba(0,0,0,0)",
                  borderwidth=0, itemwidth=40, font=dict(size=35, color=INK, family=FONT))
note("Akt3 I", 826, 153, anchor="left")
note("Cell proliferation", 165, 167, angle=-90)
note("(492 nm)", 204, 168, angle=-90)
for t, x, y in (("##", 620, 55), ("##", 746, 38), ("**", 620, 121), ("**", 746, 133)):
    stars(t, x, y)

# ---------------- PANEL B ----------------
bars(2, (1215, 1896), (42, 296), 10, [0, 2, 4, 6, 8, 10], apoptosis, apoptosis_err, [0, 1, 1.97])
note("Apoptosis rate (%)", 1143, 174, angle=-90)
stars("##", 1558, 197)
stars("**", 1785, 67)

# ---------------- PANEL C ----------------
flow = [
    dict(n=3, x=(114, 634), y=(402, 919), dots=control_dots, bx=control_band_x, by=control_band_y, top=control_top,
         frame="#3f3f9c", gate="#a83a5c", ylab=-38,
         pos=[(128, 431, 474), (507, 428, 472), (127, 849, 892), (523, 853, 895)], low="Q1-LL", title=365,
         tx=[105, 189, 276, 364, 437, 527, 628]),
    dict(n=4, x=(774, 1294), y=(405, 921), dots=mir_dots, bx=mir_band_x, by=mir_band_y, top=mir_top,
         frame="#3a3ac4", gate="#c23560", ylab=-46,
         pos=[(781, 432, 475), (1165, 434, 477), (787, 850, 893), (1172, 859, 902)], low="Q1-LL", title=1025,
         tx=[773, 856, 942, 1030, 1102, 1193, 1289]),
    dict(n=5, x=(1449, 1967), y=(403, 921), dots=akt_dots, bx=akt_band_x, by=akt_band_y, top=akt_top,
         frame="#3a3ac4", gate="#c23560", ylab=-39,
         pos=[(1465, 434, 477), (1852, 431, 474), (1462, 854, 897), (1836, 854, 897)], low="Q1- LL", title=1702,
         tx=[1459, 1541, 1629, 1716, 1793, 1882, 1986]),
]
minor_vals = [m * 10 ** k for k in range(1, 7) for m in (2, 3, 4, 5, 6, 7, 8, 9)] + [m * 10 ** 7 for m in (1.2,)]
for i, p in enumerate(flow):
    top_m = 16.63
    xr, yr = set_axes(
        p["n"],
        dict(domain=px_x(*p["x"]), type="log", range=[1, 7.2], tickmode="array",
             tickvals=[10 ** e for e in flow_tick_exp], showticklabels=False, ticks="outside", ticklen=16,
             tickcolor=p["frame"], tickwidth=3, showgrid=False, zeroline=False, showline=True, mirror=True,
             linecolor=p["frame"], linewidth=2.5,
             minor=dict(tickmode="array", tickvals=minor_vals, ticks="outside", ticklen=16, tickcolor="#2e2eb8",
                        tickwidth=2.5, showgrid=False)),
        dict(domain=px_y(*p["y"]), range=[0, top_m * 1e6], tickmode="array", tickvals=[0, 5e6, 10e6, 15e6],
             showticklabels=False, ticks="outside", ticklen=13, tickcolor=p["frame"], tickwidth=2.5, showgrid=False,
             zeroline=False, showline=True, mirror=True, linecolor=p["frame"], linewidth=2.5),
    )
    # dense event band along the baseline
    fig.add_trace(go.Scatter(x=[10 ** v for v in p["bx"]], y=[v * 1e6 for v in p["by"]], mode="lines",
                             fill="tozeroy", fillcolor="#000000", line=dict(color="#000000", width=1),
                             xaxis=xr, yaxis=yr, showlegend=False))
    fig.add_trace(go.Scatter(x=[10 ** v for v, _ in p["dots"]], y=[v * 1e6 for _, v in p["dots"]], mode="markers",
                             marker=dict(color="#000000", size=4.2), xaxis=xr, yaxis=yr, showlegend=False))
    fig.add_trace(go.Scatter(x=[10 ** v for v in p["top"]], y=[16.55e6] * len(p["top"]), mode="markers",
                             marker=dict(color="#20206e", size=4.5, symbol="square"), xaxis=xr, yaxis=yr,
                             showlegend=False))
    fig.add_trace(go.Scatter(x=[10 ** 2.3, 10 ** 4.3], y=[0.04e6, 0.04e6], mode="lines",
                             line=dict(color="#0a0ad0", width=4), xaxis=xr, yaxis=yr, showlegend=False))
    fig.add_trace(go.Scatter(x=[10 ** gate_log_x] * 2, y=[0, top_m * 1e6], mode="lines",
                             line=dict(color=p["gate"], width=2.2), xaxis=xr, yaxis=yr, showlegend=False))
    fig.add_trace(go.Scatter(x=[10, 10 ** 7.2], y=[gate_y * 1e6] * 2, mode="lines",
                             line=dict(color=p["gate"], width=2.2), xaxis=xr, yaxis=yr, showlegend=False))
    names = ["Q1-UL", "Q1-UR", p["low"], "Q1-LR"]
    for nm, pct, (lx, y1, y2) in zip(names, flow_quadrants[i], p["pos"]):
        note(nm, lx, y1, color=ROSE, anchor="left")
        note(pct, lx, y2, color=ROSE, anchor="left")
    lx = p["x"][0] + p["ylab"]
    note("16,77", lx, 422, size=31, color=BLUE, angle=-90)
    note("10,000,000", lx + 2, 591, size=31, color=BLUE, angle=-90)
    note("5,000,000", lx - 2, 787, size=31, color=BLUE, angle=-90)
    note("0", lx - 2, 918, size=31, color=BLUE, angle=-90)
    for lab, tx in zip(flow_tick_text, p["tx"]):
        note(lab, tx, 968, size=33, color=BLUE)
    note(flow_names[i], p["title"], 1020)

# ---------------- PANEL D ----------------


def blot(bands, bg_rows):
    xs = np.linspace(0, 1, 280)
    ys = np.linspace(0, 1, 70)
    X, Y = np.meshgrid(xs, ys)
    bg = np.interp(Y, np.linspace(0, 1, len(bg_rows)), bg_rows)
    img = bg.copy()
    for cx, cy, hw, hh in bands:
        d = (np.abs((X - cx) / hw) ** 2.7 + np.abs((Y - cy) / hh) ** 2.2) ** (1 / 2.4)
        dark = 1 / (1 + np.exp((d - 1) / 0.07))
        img = img * (1 - dark) + 0.01 * dark
    return xs, ys, img


for n, yd, bands, rows in ((6, (1128, 1223), bax_bands, [0.66, 0.56, 0.66, 0.78, 0.8]),
                           (7, (1233, 1348), gapdh_bands, [0.8, 0.74, 0.78, 0.82, 0.86])):
    xr, yr = set_axes(
        n,
        dict(domain=px_x(238, 795), range=[0, 1], visible=False),
        dict(domain=px_y(*yd), range=[1, 0], visible=False),
    )
    xs, ys, img = blot(bands, rows)
    fig.add_trace(go.Heatmap(x=xs, y=ys, z=img, colorscale=[[0, "#000000"], [1, "#ffffff"]], zmin=0, zmax=1,
                             showscale=False, zsmooth="best", xaxis=xr, yaxis=yr, hoverinfo="skip"))
note("Bax", 841, 1168, size=33)
note("GAPDH", 872, 1303, size=33)
note("Control", 334, 1374)
note("miRNA-145", 522, 1374)
note("miRNA-145+", 729, 1374)
note("Akt3 I", 729, 1417)

# ---------------- PANEL E, F, G ----------------
bars(8, (1181, 1759), (1137, 1367), 3.5, [0, 0.5, 1, 1.5, 2, 2.5, 3, 3.5], bax, bax_err, [-0.05, 0.99, 2.03],
     ["0", "0.5", "1", "1.5", "2", "2.5", "3", "3.5"])
note("Bax protein", 1041, 1277, angle=-90)
note("expression (fold control)", 1084, 1278, angle=-90)
stars("##", 1472, 1150)
stars("**", 1663, 1255)

bars(9, (353, 939), (1553, 1756), 200, [0, 50, 100, 150, 200], casp3, casp3_err, [-0.05, 1.03, 2.09])
note("Caspase-3 activity", 210, 1669, angle=-90)
note("(ng/mg protein)", 255, 1667, angle=-90)
stars("##", 645, 1685)
stars("**", 843, 1614)

bars(10, (1198, 1782), (1552, 1755), 1.2, [0, 0.2, 0.4, 0.6, 0.8, 1, 1.2], casp9, casp9_err, [0.02, 1.05, 2.17],
     ["0", "0.2", "0.4", "0.6", "0.8", "1", "1.2"], standoff=-8)
note("Caspase-9 activity", 1047, 1654, angle=-90)
note("(ng/mg protein)", 1095, 1668, angle=-90)
stars("##", 1490, 1688)
stars("**", 1685, 1612)

# panel letters
for t, x, y in (("A", 113, 32), ("B", 1078, 42), ("C", 29, 396), ("D", 188, 1135), ("E", 1020, 1117),
                ("F", 162, 1552), ("G", 1001, 1548)):
    note(t, x, y, size=50, color="#111111")

fig.update_layout(width=W, height=H, margin=dict(l=0, r=0, t=0, b=0, autoexpand=False), paper_bgcolor="white",
                  plot_bgcolor="white", barmode="overlay", annotations=annots, hovermode=False,
                  font=dict(family=FONT, color=INK), **L)
fig.write_html("out.html", post_script="document.body.style.margin='0';", config={"displayModeBar": False})
